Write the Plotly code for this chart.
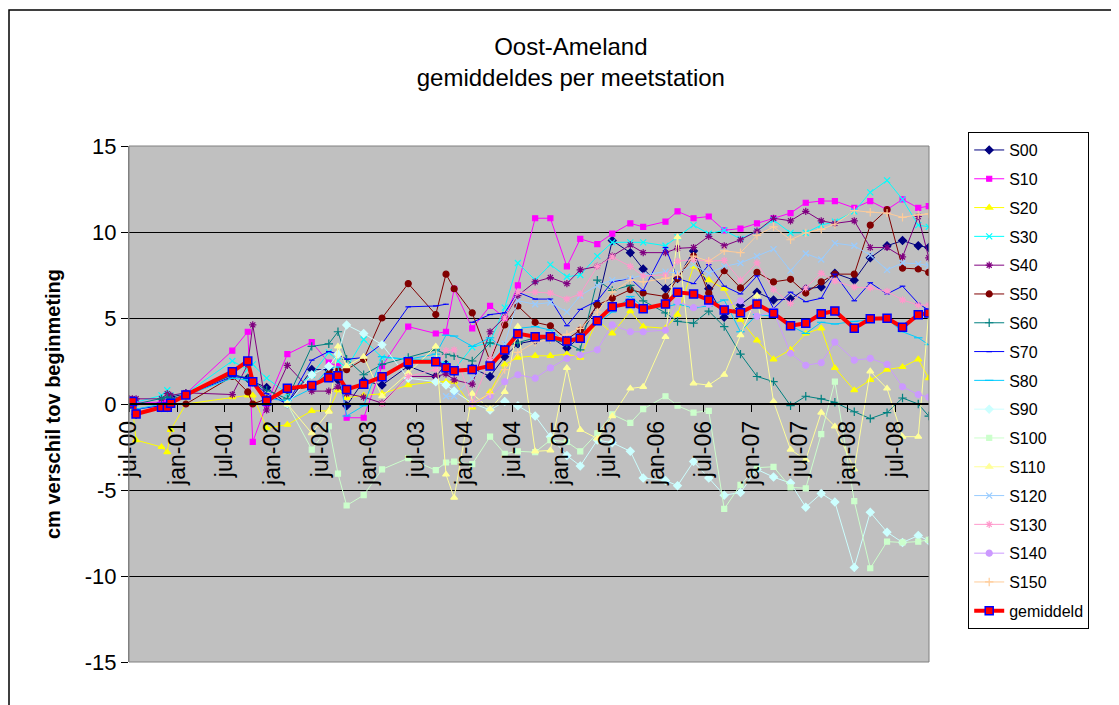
import plotly.graph_objects as go

N = None

dates = ["2000-07-02", "2000-07-14", "2000-07-28", "2000-11-02", "2000-11-24", "2000-12-07",
         "2001-02-03", "2001-07-30", "2001-09-27", "2001-10-16", "2001-12-08", "2002-02-25",
         "2002-05-29", "2002-08-02", "2002-09-06", "2002-10-09", "2002-12-13", "2003-02-21",
         "2003-06-01", "2003-09-14", "2003-10-23", "2003-11-23", "2004-01-31", "2004-04-08",
         "2004-06-03", "2004-07-23", "2004-09-27", "2004-11-24", "2005-01-26", "2005-03-18",
         "2005-05-22", "2005-07-18", "2005-09-25", "2005-11-13", "2006-02-06", "2006-03-24",
         "2006-05-24", "2006-07-21", "2006-09-18", "2006-11-19", "2007-01-21", "2007-03-25",
         "2007-05-29", "2007-07-26", "2007-09-23", "2007-11-14", "2008-01-27", "2008-03-28",
         "2008-05-31", "2008-07-29", "2008-09-27", "2008-11-06"]

s00 = [0, 0.1, -0.6, -0.2, -0.2, 0.4, 0.6, 1.7, 1.5, 1.3, 0.96, 0.0, 2.0, 2.0, 1.4, -0.1, 1.35, 1.1,
       2.2, 1.6, 2.3, 1.9, 2.1, 1.6, 2.75, 3.5, 3.7, 3.9, 3.25, 3.9, 5.8, 9.5, 8.8, 7.85, 6.7, 7.3,
       8.9, 6.7, 5.05, 5.75, 6.5, 6.05, 6.1, 6.7, 6.8, 7.6, 7.2, 8.5, 9.2, 9.5, 9.2, 9.1]
s10 = [0, 0.1, 0.1, 0.1, 0.1, 0.1, 0.6, 3.1, 4.2, -2.2, 0.0, 2.9, 3.6, 2.4, 2.2, -0.8, -0.8, 2.2,
       4.5, 4.1, 4.2, 6.7, 4.4, 5.7, 5.0, 6.9, 10.8, 10.8, 8.0, 9.6, 9.3, 9.9, 10.5, 10.3, 10.6, 11.2,
       10.8, 10.9, 10.1, 10.2, 10.5, 10.8, 11.1, 11.7, 11.8, 11.8, 11.4, 11.8, 11.3, 11.9, 11.4, 11.5]
s20 = [0, -0.2, -2.1, -2.5, -2.8, -1.5, 0.0, 0.4, 0.5, 0.5, -1.4, -1.2, -0.4, -0.4, 0.8, 0.35, 0.5, 0.6,
       1.1, 1.3, 1.3, 1.3, -0.2, 0.7, 2.3, 2.7, 2.8, 2.8, 2.9, 2.7, 4.9, 4.1, 5.4, 4.5, 4.4, 5.2,
       8.0, 7.2, 6.7, 4.9, 3.7, 2.6, 3.15, 4.1, 4.4, 2.1, 0.8, 1.4, 2.0, 2.15, 2.6, 1.5]
s30 = [0, 0.2, 0.1, 0.5, 0.8, 0.5, 0.6, 2.5, 2.0, 2.3, 1.5, 0.6, 1.7, 3.0, 2.5, 2.1, 3.75, 2.7,
       2.6, 2.6, 2.3, 2.0, 3.3, 3.6, 5.6, 8.2, 7.2, 8.1, 7.4, 7.5, 8.6, 9.4, 9.4, 9.4, 9.2, 9.7,
       10.4, 9.9, 10.1, 9.6, 10.05, 10.7, 9.95, 9.95, 10.4, 10.6, 11.2, 12.3, 13.0, 11.9, 10.4, 10.3]
s40 = [0.3, 0.3, 0.3, 0.3, 0.6, 0.5, 0.65, 0.55, 2.3, 4.6, -0.35, 2.25, 0.75, 0.75, 1.0, 0.6, 0.4, 0.05,
       1.6, 1.6, 1.75, 1.4, 1.15, 4.2, 5.05, 6.3, 7.1, 7.35, 7.0, 7.8, 8.0, 8.6, 9.25, 8.8, 8.8, 9.05,
       9.1, 9.75, 9.2, 9.55, 10.05, 10.8, 10.65, 11.2, 10.65, 10.5, 10.65, 9.1, 9.1, 8.55, 10.9, 8.5]
s50 = [N, N, N, N, N, N, 0, 1.6, 0.7, 0, 0.3, 0.8, 1.0, 1.8, 1.95, 2.0, 2.6, 5.0,
       7.0, 5.2, 7.55, 6.7, 5.3, 2.5, 4.6, 5.7, 4.75, 4.55, 3.75, 4.3, 5.75, 6.15, 6.65, 6.45, 6.25, 7.3,
       8.6, 6.45, 7.75, 6.75, 7.65, 7.1, 7.25, 6.45, 7.1, 7.55, 7.55, 10.4, 11.3, 7.9, 7.85, 7.65]
s60 = [0, 0.1, 0.0, 0.3, 0.4, 0.3, 0.5, 1.7, 1.5, 1.3, 0.8, 0.3, 3.35, 3.5, 4.2, 2.6, 1.7, 2.3,
       2.7, 3.15, 2.9, 2.8, 2.5, 3.55, 3.35, 3.55, 3.85, 3.75, 3.55, 3.15, 7.2, 6.6, 6.9, 6.0, 5.3, 4.8,
       4.7, 5.4, 4.5, 2.9, 1.6, 1.3, -0.1, 0.45, 0.3, 0.1, -0.45, -0.85, -0.5, 0.35, 0.0, -0.7]
s70 = [0, 0, -0.3, -0.1, 0.0, 0.2, 0.5, 1.6, 1.5, 1.3, 0.6, 0.0, 2.55, 3.05, 2.9, 2.6, 2.7, 3.5,
       5.65, 5.7, 5.8, N, 4.75, 5.2, 5.3, 6.5, 6.1, 6.1, 4.55, 5.5, 6.0, 7.1, 7.3, 6.6, 9.1, 7.3,
       7.0, 8.1, 6.85, 6.4, 7.45, 5.55, 6.5, 5.95, 6.15, 7.55, 6.0, 7.05, 6.4, 6.85, 5.85, 5.45]
s80 = [0, 0, -0.3, 0.0, 0.0, 0.2, 0.5, 1.5, 1.4, 1.2, 0.3, 0.2, 0.9, 2.1, 2.15, -0.7, -0.1, 2.75,
       2.6, 2.9, 4.0, 3.95, 3.35, 3.85, 3.15, 4.4, 4.5, 4.3, 3.55, 4.0, 4.7, 5.35, 6.25, 5.65, 5.65, 5.8,
       5.6, 5.7, 6.05, 4.2, 5.2, 5.1, 4.55, 4.1, 4.75, 4.65, 4.8, 4.9, 4.95, 4.2, 3.85, 3.45]
s90 = [N] * 11 + [0.0, 1.7, 2.2, 2.9, 4.6, 4.1, 3.45, 1.5, 1.3, 1.1, 0.75, 0.05, -0.35, 0.15, -0.1, -0.7,
                  -1.9, -3.0, -3.6, -2.1, -2.25, -2.75, -4.3, -4.45, -4.75, -3.35, -4.3, -5.3, -5.15, -3.8,
                  -4.25, -4.6, -6.0, -5.2, -5.7, -9.5, -6.3, -7.45, -8.05, -7.65, -7.95]
s100 = [N] * 11 + [0.0, -2.65, -1.3, -4.05, -5.9, -5.3, -3.8, -3.15, -3.85, -3.4, -3.35, -3.5, -1.9, -2.9,
                   -2.75, -2.8, -2.1, -2.2, -2.75, -1.7, -0.6, -1.1, -0.3, 0.45, -0.1, -0.5, -0.4, -6.1,
                   -4.7, -3.7, -3.65, -4.85, -4.9, -1.75, 1.3, -5.65, -9.55, -8.0, -8.05, -8.0, -7.9]
s110 = [N] * 11 + [0.0, -1.7, -0.45, 3.35, 2.2, 2.75, 0.45, 1.8, 3.35, -4.1, -5.45, 0.6, -0.3, 0.7, 4.5,
                   -2.75, -2.7, 2.1, -1.5, -2.0, -0.7, 0.9, 1.0, 3.9, 9.7, 1.2, 1.1, 1.7, 4.0, 6.3, 0.15,
                   -2.65, -3.25, -0.5, -1.3, -3.8, 1.9, 0.9, -1.9, -1.9, 5.3]
s120 = [N] * 20 + [0.45, 0.45, 1.5, 2.4, 3.5, 6.0, 5.8, 5.9, 5.35, 6.3, 6.9, 7.2, 7.3, 7.5, 7.7, 7.6, 8.1,
                   7.6, 8.0, 8.2, 8.6, 9.0, 7.75, 8.75, 8.4, 9.35, 9.2, 8.65, 7.8, 8.2, 8.15, 8.05]
s130 = [N] * 17 + [0.0, 1.6, 2.0, 3.1, 3.15, 0.05, 2.6, 5.0, 6.5, 6.5, 6.45, 6.1, 6.4, 8.0, 8.55, 8.0,
                   7.45, 7.5, 8.3, 8.4, 8.3, 8.35, 7.2, 8.2, 6.65, 5.85, 6.75, 7.6, 7.15, 6.8, 6.75, 6.55,
                   6.05, 5.75, 5.75]
s140 = [N] * 22 + [0.0, 0.45, 1.3, 1.7, 1.5, 2.1, 2.65, 2.85, 3.15, 4.6, 4.2, 4.2, 4.3, 5.95, 5.6, 5.8,
                   5.6, 6.0, 5.1, 5.4, 2.95, 2.25, 2.4, 3.6, 2.55, 2.65, 2.3, 1.0, 0.55, 0.4]
s150 = [N] * 22 + [0.05, 0.6, 2.0, 3.0, 3.6, 3.75, 4.05, 4.4, 5.35, 6.5, 7.2, 7.1, 7.3, 7.5, 8.6, 8.3,
                   8.9, 8.8, 9.8, 10.3, 9.55, 9.95, 10.15, 10.45, 11.25, 11.15, 11.1, 10.85, 11.0, 11.05]
gemiddeld = [0, 0.15, -0.58, -0.19, -0.19, 0.04, 0.52, 1.88, 2.5, 1.3, 0.17, 0.91, 1.08, 1.53, 1.64, 0.85,
             1.15, 1.59, 2.46, 2.46, 2.11, 1.94, 2.0, 2.21, 3.14, 4.09, 3.91, 3.91, 3.66, 3.82, 4.84, 5.66,
             5.85, 5.54, 5.81, 6.49, 6.4, 6.05, 5.47, 5.31, 5.81, 5.27, 4.55, 4.69, 5.25, 5.41, 4.40, 4.96,
             4.98, 4.46, 5.19, 5.29]

tick_dates = ["2000-07-01", "2001-01-01", "2001-07-01", "2002-01-01", "2002-07-01", "2003-01-01",
              "2003-07-01", "2004-01-01", "2004-07-01", "2005-01-01", "2005-07-01", "2006-01-01",
              "2006-07-01", "2007-01-01", "2007-07-01", "2008-01-01", "2008-07-01"]
tick_labels = ["jul-00", "jan-01", "jul-01", "jan-02", "jul-02", "jan-03", "jul-03", "jan-04", "jul-04",
               "jan-05", "jul-05", "jan-06", "jul-06", "jan-07", "jul-07", "jan-08", "jul-08"]
y_ticks = [-15, -10, -5, 0, 5, 10, 15]
y_labels = ["-15", "-10", "-5", "0", "5", "10", "15"]

series = [
    ("S00", s00, "#000080", "diamond", 6),
    ("S10", s10, "#FF00FF", "square", 5),
    ("S20", s20, "#FFFF00", "triangle-up", 6),
    ("S30", s30, "#00FFFF", "x-thin-open", 6),
    ("S40", s40, "#800080", "asterisk-open", 6),
    ("S50", s50, "#800000", "circle", 6),
    ("S60", s60, "#008080", "cross-thin-open", 6),
    ("S70", s70, "#0000FF", "line-ew-open", 4),
    ("S80", s80, "#00CCFF", "line-ew-open", 6),
    ("S90", s90, "#CCFFFF", "diamond", 6),
    ("S100", s100, "#CCFFCC", "square", 5),
    ("S110", s110, "#FFFF99", "triangle-up", 6),
    ("S120", s120, "#99CCFF", "x-thin-open", 6),
    ("S130", s130, "#FF99CC", "asterisk-open", 6),
    ("S140", s140, "#CC99FF", "circle", 6),
    ("S150", s150, "#FFCC99", "cross-thin-open", 6),
]

FONT = "Liberation Sans, Arial, sans-serif"

fig = go.Figure()
for name, vals, col, sym, size in series:
    fig.add_trace(go.Scatter(
        x=dates, y=vals, name=name, mode="lines+markers", legendgroup=name,
        line=dict(color=col, width=1),
        marker=dict(symbol=sym, size=size, color=col, line=dict(color=col, width=1.2)),
    ))
fig.add_trace(go.Scatter(
    x=dates, y=gemiddeld, name="gemiddeld", mode="lines+markers", legendgroup="gemiddeld",
    line=dict(color="#FF0000", width=4),
    marker=dict(symbol="square", size=8, color="#FF0000", line=dict(color="#0000FF", width=1.5)),
))

fig.update_layout(
    width=1119, height=705,
    margin=dict(l=121, r=198, t=138, b=51),
    paper_bgcolor="white", plot_bgcolor="#C0C0C0",
    font=dict(family=FONT, color="black"),
    title=dict(text="Oost-Ameland<br>gemiddeldes per meetstation", x=0.503, xanchor="center",
               y=0.934, yanchor="middle", yref="container", font=dict(size=24, family=FONT)),
    legend=dict(x=1.049, y=1.027, xanchor="left", yanchor="top", bgcolor="white",
                bordercolor="black", borderwidth=1, font=dict(size=16, family=FONT),
                tracegroupgap=5, maxheight=650),
    xaxis=dict(type="date", range=["2000-07-01", "2008-11-07"], tickmode="array",
               tickvals=tick_dates, ticktext=tick_labels, tickangle=-90,
               anchor="free", position=0.5, showline=True, linecolor="black", linewidth=1.5,
               ticks="outside", ticklen=7, tickcolor="black", showgrid=False, zeroline=False,
               tickfont=dict(size=23, family=FONT)),
    yaxis=dict(range=[-15, 15], tickmode="array", tickvals=y_ticks, ticktext=y_labels,
               showgrid=True, gridcolor="black", gridwidth=1, zeroline=False,
               showline=True, linecolor="#808080", ticks="outside", ticklen=7, tickcolor="black",
               tickfont=dict(size=22, family=FONT),
               title=dict(text="<b>cm verschil tov beginmeting</b>", font=dict(size=20, family=FONT),
                          standoff=18)),
    shapes=[
        dict(type="rect", xref="paper", yref="paper", x0=0, x1=1, y0=0, y1=1,
             line=dict(color="#808080", width=1), layer="above"),
        dict(type="rect", xref="paper", yref="paper", x0=-0.15, x1=1.3, y0=-0.2, y1=1.2636,
             line=dict(color="black", width=1.5), layer="above"),
    ],
)

fig.write_html("out.html")
